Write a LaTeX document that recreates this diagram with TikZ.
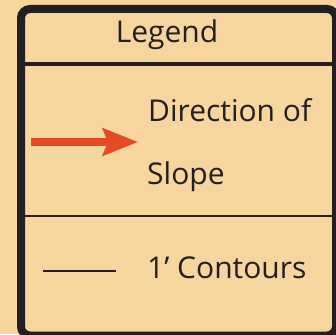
\documentclass[tikz,border=0pt]{standalone}
\usepackage{fontspec}
\setmainfont{Open Sans}
\usetikzlibrary{arrows.meta}
\definecolor{PaperClr}{RGB}{246,214,158}
\definecolor{FrameClr}{RGB}{35,31,32}
\definecolor{SlopeClr}{RGB}{230,74,36}

\begin{document}
\begin{tikzpicture}[x=1pt,y=-1pt,
  label/.style={anchor=base west,inner sep=0pt,font=\fontsize{30}{34}\selectfont,text=FrameClr},
  rule/.style={draw=FrameClr}]
\fill[PaperClr] (0,0) rectangle (336,334);
\useasboundingbox (0,0) rectangle (336,334);

% frame and rows
\draw[rule,line width=8pt,rounded corners=9pt] (21,9) rectangle (336,335.5);
\draw[rule,line width=4pt] (21,64.5) -- (336,64.5);
\draw[rule,line width=2.5pt] (21,216) -- (336,216);

\node[label,anchor=base] (legend) at (167,43) {Legend};
\node[label] (dirof) at (148,121) {Direction of};
\node[label] (slope) at (147,184) {Slope};
\node[label] (contours) at (147,278) {1’ Contours};

% slope arrow
\coordinate (arrowtail) at (31,142);
\coordinate (arrowtip) at (138,142);
\draw[SlopeClr,line width=7.5pt,-{Stealth[length=35pt,width=27pt,inset=5pt]}] (arrowtail) -- (arrowtip);

% contour sample
\coordinate (linestart) at (43,271);
\coordinate (lineend) at (116,271);
\draw[rule,line width=2pt] (linestart) -- (lineend);
\end{tikzpicture}
\end{document}
